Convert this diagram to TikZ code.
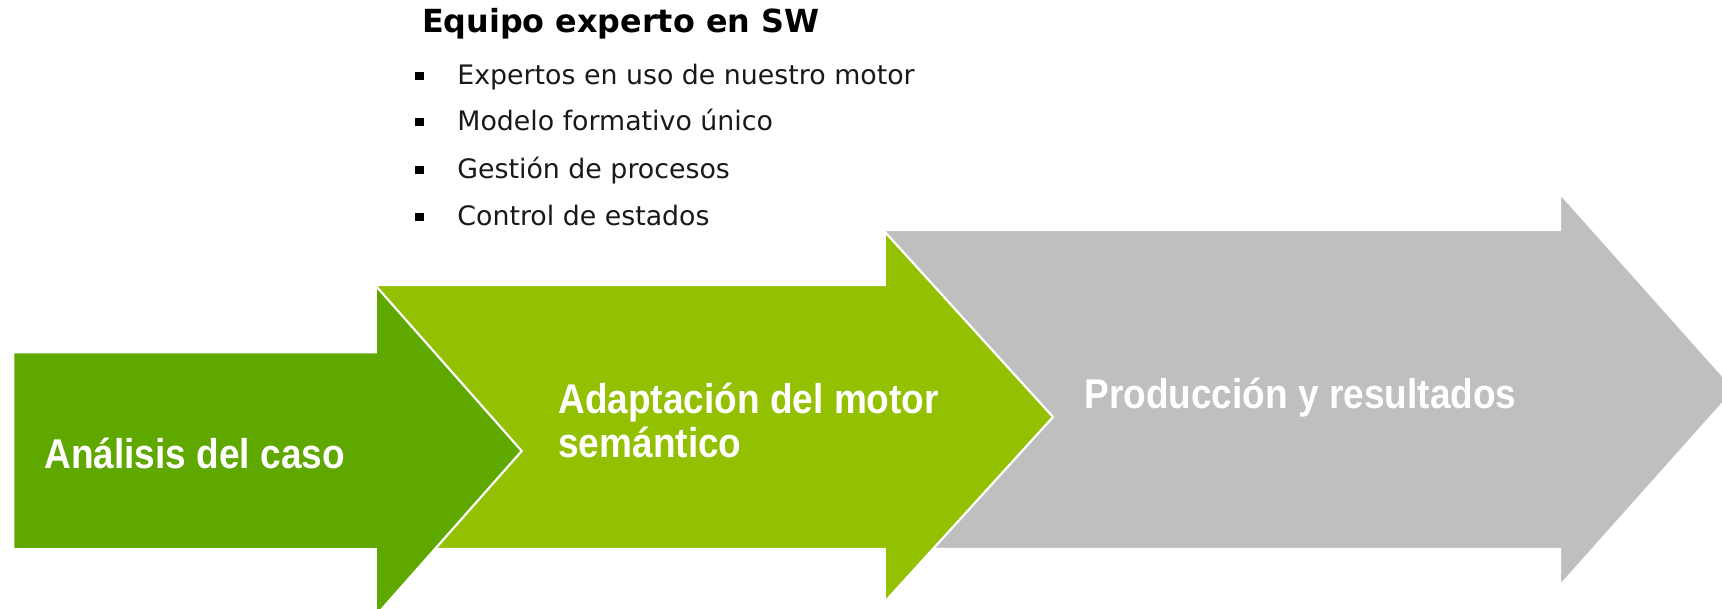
\documentclass[tikz,border=0pt]{standalone}
\usepackage{fontspec}
\setmainfont{DejaVu Sans}
\newfontfamily\labfont[FakeStretch=0.89]{Liberation Sans}
\definecolor{dkgreen}{RGB}{94,168,0}
\definecolor{ltgreen}{RGB}{147,192,0}
\definecolor{arrgray}{RGB}{191,191,191}
\begin{document}
\begin{tikzpicture}[x=0.5pt,y=-0.5pt,
  arrowshape/.style={draw=white, line width=1.1pt, line join=miter},
  arrlabel/.style={anchor=base west, inner sep=0pt, text=white, font=\labfont\bfseries\fontsize{20.8pt}{22pt}\selectfont, align=left},
  titletext/.style={anchor=base west, inner sep=0pt, font=\bfseries\fontsize{15.9pt}{19pt}\selectfont},
  itemtext/.style={anchor=base west, inner sep=0pt, text=black!90, font=\fontsize{13.4pt}{16pt}\selectfont},
  bulletsq/.style={fill=black, inner sep=0pt, minimum size=4.3pt, draw=none}]
\useasboundingbox (0,0) rectangle (1722,609);
\begin{scope}
\clip (0,0) rectangle (1722,609);
% arrow 3 (gray)
\path[arrowshape, fill=arrgray] (884.7,230) -- (1560,230) -- (1560,193.3) -- (1735,389.5) -- (1560,585.7) -- (1560,549) -- (884.7,549) -- cycle;
% arrow 2 (light green)
\path[arrowshape, fill=ltgreen] (376,285) -- (884.7,285) -- (884.7,231.7) -- (1053,417) -- (884.7,602) -- (884.7,549) -- (376,549) -- cycle;
% arrow 1 (dark green)
\path[arrowshape, fill=dkgreen] (13.3,352.3) -- (375.7,352.3) -- (375.7,285.7) -- (521.7,451) -- (375.7,616) -- (375.7,549.3) -- (13.3,549.3) -- cycle;
\end{scope}
% arrow labels
\node[arrlabel] (a1) at (44,468) {Análisis del caso};
\node[arrlabel] (a2a) at (558,413) {Adaptación del motor};
\node[arrlabel] (a2b) at (558,457) {semántico};
\node[arrlabel] (a3) at (1084,408) {Producción y resultados};
% title and list
\node[titletext] (title) at (421.7,33) {Equipo experto en SW};
\node[itemtext] (i1) at (457,85) {Expertos en uso de nuestro motor};
\node[itemtext] (i2) at (457,131) {Modelo formativo único};
\node[itemtext] (i3) at (457,179) {Gestión de procesos};
\node[itemtext] (i4) at (457,226) {Control de estados};
\node[bulletsq] (b1) at (419.5,76) {};
\node[bulletsq] (b2) at (419.5,122) {};
\node[bulletsq] (b3) at (419.5,170) {};
\node[bulletsq] (b4) at (419.5,217) {};
\end{tikzpicture}
\end{document}
